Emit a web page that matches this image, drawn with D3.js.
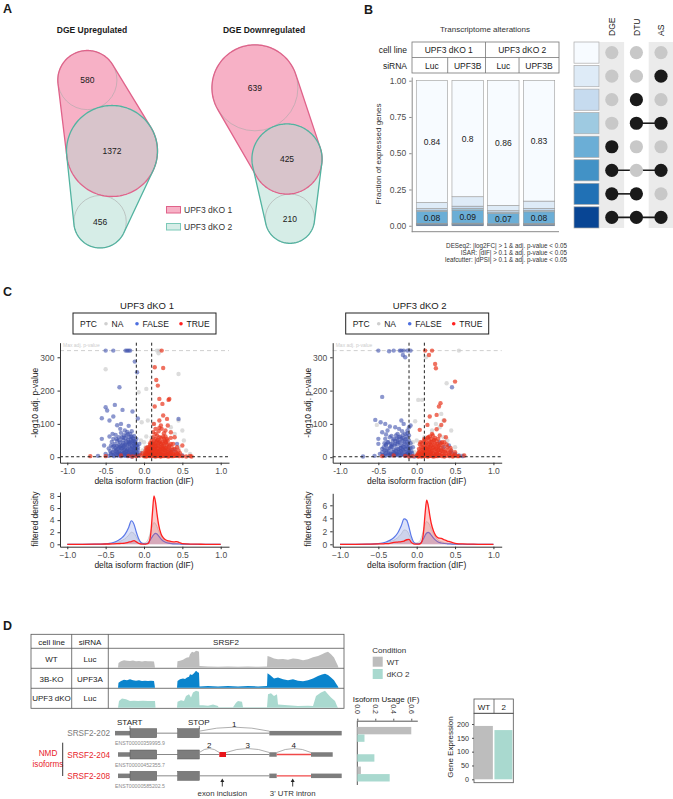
<!DOCTYPE html>
<html><head><meta charset="utf-8">
<script src="https://cdn.jsdelivr.net/npm/d3@7"></script>
<style>
body{margin:0;background:#fff;}
svg{display:block;font-family:"Liberation Sans",Arial,sans-serif;}
</style></head><body>
<svg id="fig" width="673" height="799"></svg>
<script>
// ================= DATA =================
// Panel A
const vennSets = ["UPF3 dKO 1", "UPF3 dKO 2"];
const vennUpCounts = [580, 1372, 456];      // only dKO1, both, only dKO2
const vennDownCounts = [639, 425, 210];
const vennTitles = ["DGE Upregulated", "DGE Downregulated"];

// Panel B
const bCellLines = ["UPF3 dKO 1", "UPF3 dKO 2"];
const bSirna = ["Luc", "UPF3B", "Luc", "UPF3B"];
const bCategories = ["DGE+DTU+AS","DGE+DTU","DGE+AS","DGE","DTU+AS","DTU","AS","none"]; // bottom -> top
const bFrac1 = [0.008,0.005,0.004,0.08,0.010,0.012,0.041,0.84];
const bFrac2 = [0.008,0.005,0.005,0.09,0.012,0.015,0.065,0.80];
const bFrac3 = [0.006,0.004,0.004,0.07,0.010,0.010,0.036,0.86];
const bFrac4 = [0.007,0.005,0.004,0.08,0.010,0.014,0.050,0.83];
const bLabelTop = ["0.84","0.8","0.86","0.83"];
const bLabelDGE = ["0.08","0.09","0.07","0.08"];
const bTicks = [0, 0.25, 0.5, 0.75, 1];
const upsetSets = ["DGE","DTU","AS"];
const upsetRows = [[],["AS"],["DTU"],["DTU","AS"],["DGE"],["DGE","AS"],["DGE","DTU"],["DGE","DTU","AS"]]; // top -> bottom
const bCaption = ["DESeq2: |log2FC| > 1 & adj. p-value < 0.05",
                  "ISAR: |dIF| > 0.1 & adj. p-value < 0.05",
                  "leafcutter: |dPSI| > 0.1 & adj. p-value < 0.05"];

// Panel C  volcano points [dIF, -log10 adj p]
const c1NA = [[-0.5,264],[0.17,320],[0.2,320],[0.19,312],[0.03,205],[0.45,250],[-0.07,195],[0.05,110],[-0.03,105],[0.35,90],[0.4,70],[0.5,80],[0.55,20],[0.6,10],[0.1,60],[0.15,40],[0.02,30],[-0.02,20],[0.0,45],[0.25,25],[0.3,35],[0.45,30],[-0.15,15],[0.08,15],[0.6,3],[0.12,100],[0.45,110],[0.03,62],[-0.04,50],[0.52,50]];
const c1False = [[-0.5,320],[-0.4,320],[-0.24,320],[-0.22,320],[-0.2,320],[-0.18,320],[-0.09,255],[-0.12,287],[-0.32,210],[-0.5,150],[-0.48,140],[-0.38,157],[-0.28,142],[-0.4,122],[-0.55,117],[-0.45,110],[-0.15,137],[-0.08,116],[0.45,115],[0.43,40],
 [-0.3,100],[-0.35,96],[-0.2,94],[-0.55,55],[-0.52,35],[-0.6,4],[-0.45,62],[-0.41,70],[-0.37,67],[-0.33,60],[-0.3,73],[-0.26,66],[-0.22,76],[-0.18,70],[-0.13,64],[-0.1,55],
 [-0.42,46],[-0.38,40],[-0.35,49],[-0.31,44],[-0.27,51],[-0.24,41],[-0.2,46],[-0.17,53],[-0.14,42],[-0.11,38],
 [-0.46,26],[-0.41,31],[-0.36,22],[-0.32,30],[-0.29,27],[-0.25,25],[-0.22,20],[-0.19,31],[-0.16,25],[-0.13,20],[-0.1,18],
 [-0.43,12],[-0.38,10],[-0.33,15],[-0.29,8],[-0.26,13],[-0.23,10],[-0.2,14],[-0.17,8],[-0.14,11],[-0.11,5],
 [-0.5,10],[-0.46,4],[-0.39,3],[-0.34,5],[-0.3,3],[-0.25,4],[-0.21,3],[-0.16,2],[-0.12,28],[-0.08,22],
 [-0.4,55],[-0.35,33],[-0.43,35],[-0.28,36],[-0.24,57],[-0.19,60],[-0.15,32],[-0.06,40],[-0.05,12],[-0.07,5],
 [0.35,20],[0.15,15],[0.2,10],[0.25,5],[0.3,8],[0.5,5],[0.4,22],[0.1,3]];
const c1FalseCore = [[-0.44,18],[-0.41,15],[-0.39,22],[-0.37,17],[-0.35,14],[-0.34,25],[-0.32,19],[-0.31,11],[-0.3,26],[-0.28,18],[-0.27,32],[-0.26,21],[-0.25,14],[-0.24,29],[-0.23,17],[-0.22,36],[-0.21,24],[-0.2,19],[-0.19,42],[-0.18,27],[-0.17,16],[-0.16,35],[-0.15,21],[-0.14,48],[-0.13,27],[-0.12,15],[-0.11,33],[-0.1,24],[-0.09,12],[-0.08,30],
 [-0.43,7],[-0.4,6],[-0.36,8],[-0.33,9],[-0.31,6],[-0.28,11],[-0.26,7],[-0.24,6],[-0.22,8],[-0.2,6],[-0.18,11],[-0.16,7],[-0.15,14],[-0.13,7],[-0.12,10],[-0.1,9],[-0.09,6],
 [-0.39,34],[-0.37,28],[-0.33,37],[-0.3,33],[-0.27,42],[-0.25,36],[-0.23,47],[-0.21,52],[-0.2,40],[-0.18,44],[-0.16,48],[-0.15,60],[-0.13,38],[-0.12,48],[-0.11,45],[-0.09,35],
 [-0.36,55],[-0.32,50],[-0.29,60],[-0.27,58],[-0.23,65],[-0.21,70],[-0.17,62],[-0.14,55],[-0.16,78],[-0.25,80],[-0.31,85]];
const c1True = [[0.23,320],[0.14,270],[0.16,232],[0.25,268],[0.18,215],[0.2,175],[0.24,160],[0.32,172],[0.33,175],[0.14,152],[0.25,125],[0.3,115],[0.2,110],[0.22,95],[0.13,100],[0.15,85],[0.28,80],[0.35,75],[0.4,60],[0.3,55],[0.45,20],[0.5,35],[0.28,45],[0.25,40],[0.2,60],[0.17,50],[0.12,40],[0.1,30],[0.07,18],[0.05,10],[0.02,5],[0.0,3],[-0.05,5],[-0.1,3],[-0.7,3],[-0.5,3],[-0.3,5],[-0.2,4],
 [0.08,42],[0.15,30],[0.18,35],[0.22,30],[0.25,25],[0.28,20],[0.32,30],[0.35,15],[0.38,10],[0.42,12],[0.45,6],[0.5,3],[0.55,2],[0.6,4],
 [0.13,20],[0.16,12],[0.19,18],[0.21,8],[0.24,14],[0.27,6],[0.3,10],[0.33,5],[0.12,8],[0.1,15],[0.08,5],[0.06,25],[0.04,15],[0.14,5],[0.18,3],[0.22,2],[0.26,3],[0.36,3],[0.4,4],
 [0.15,55],[0.2,45],[0.17,65],[0.26,55],[0.3,38],[0.35,40],[0.12,60],[0.1,50],[0.03,28],[-0.02,12],[0.19,78],[0.23,85],[0.31,95],[0.09,22],[0.11,35],[0.14,42],[0.21,22],[0.24,34],[0.27,28],[0.16,24],[0.06,8],[0.03,2],[-0.15,2],[0.62,2]];
const c1TrueCore = [[0.01,8],[0.02,14],[0.03,10],[0.04,22],[0.05,17],[0.06,12],[0.07,30],[0.08,14],[0.09,9],[0.1,24],[0.11,18],[0.12,12],[0.12,30],[0.13,15],[0.14,25],[0.15,20],[0.15,9],[0.16,34],[0.17,18],[0.17,8],[0.18,27],[0.19,12],[0.2,33],[0.2,16],[0.21,25],[0.22,40],[0.23,19],[0.23,9],[0.24,27],[0.25,15],[0.26,33],[0.27,22],[0.28,13],[0.29,28],[0.3,17],[0.31,24],[0.32,12],[0.33,20],[0.34,9],[0.36,15],[0.37,22],[0.39,7],[0.41,16],[0.44,10],[0.47,12],
 [0.02,20],[0.05,30],[0.08,36],[0.1,42],[0.13,48],[0.14,35],[0.16,45],[0.18,52],[0.19,42],[0.21,48],[0.22,58],[0.24,45],[0.25,62],[0.27,50],[0.29,44],[0.31,50],[0.33,35],[0.36,30],[0.38,40],[0.4,25],[0.43,30],
 [0.01,3],[0.03,5],[0.05,4],[0.07,3],[0.09,6],[0.11,4],[0.13,3],[0.15,2],[0.17,4],[0.19,5],[0.21,3],[0.23,4],[0.25,6],[0.28,4],[0.3,3],[0.32,2],[0.34,4],[0.38,3],[0.42,4],[0.46,3],
 [0.15,70],[0.2,88],[0.26,72],[0.12,75],[0.35,58],[0.28,62]];
const c2NA = [[0.55,320],[0.39,222],[0.02,172],[0.07,172],[0.12,300],[-0.52,97],[0.32,130],[0.35,110],[0.3,90],[0.25,100],[0.1,60],[0.05,40],[0.0,50],[-0.05,45],[0.15,35],[0.4,50],[0.45,20],[0.5,30],[0.2,80],[-0.1,30],[0.6,5],[0.35,60],[0.03,20],[-0.03,15],[0.28,25],[0.17,15],[0.45,80],[-0.02,108]];
const c2False = [[-0.5,320],[-0.36,318],[-0.3,320],[-0.22,320],[-0.2,320],[-0.17,320],[-0.12,320],[-0.08,320],[-0.18,307],[-0.15,300],[-0.45,181],[0.46,210],[-0.54,112],[-0.47,105],[-0.41,100],[-0.35,92],[-0.28,90],[-0.2,110],[-0.17,100],[-0.12,80],[-0.08,95],
 [-0.45,75],[-0.4,68],[-0.35,60],[-0.3,55],[-0.25,70],[-0.22,62],[-0.18,58],[-0.15,52],[-0.1,65],
 [-0.5,40],[-0.42,42],[-0.38,45],[-0.32,38],[-0.28,40],[-0.24,45],[-0.2,35],[-0.16,40],[-0.12,30],[-0.08,42],
 [-0.45,25],[-0.4,20],[-0.35,28],[-0.3,22],[-0.26,25],[-0.22,18],[-0.18,22],[-0.14,15],[-0.1,20],[-0.06,12],
 [-0.48,10],[-0.42,8],[-0.37,12],[-0.32,6],[-0.27,10],[-0.23,5],[-0.19,8],[-0.15,4],[-0.11,6],[-0.07,3],
 [-0.7,2],[-0.55,4],[0.3,45],[0.35,30],[0.42,35],[0.5,10],[0.55,5],[0.6,3],[0.2,5],[0.25,8],[-0.03,2],[-0.5,55],[-0.38,80],[-0.25,50],[-0.12,45],[-0.05,30],
 [-0.33,33],[-0.21,28],[-0.16,30],[-0.4,35],[-0.29,14],[-0.13,10],[0.15,12],[0.45,15]];
const c2FalseCore = [[-0.45,15],[-0.42,20],[-0.4,12],[-0.38,25],[-0.36,18],[-0.34,10],[-0.33,30],[-0.31,16],[-0.3,8],[-0.29,35],[-0.27,20],[-0.26,12],[-0.25,38],[-0.24,24],[-0.23,15],[-0.22,44],[-0.21,28],[-0.2,17],[-0.19,50],[-0.18,32],[-0.17,20],[-0.16,45],[-0.15,25],[-0.14,55],[-0.13,34],[-0.12,18],[-0.11,40],[-0.1,26],[-0.09,14],[-0.08,28],[-0.07,18],
 [-0.44,6],[-0.41,4],[-0.37,7],[-0.35,5],[-0.32,9],[-0.28,6],[-0.25,8],[-0.21,6],[-0.18,10],[-0.16,6],[-0.13,8],[-0.11,12],[-0.08,7],
 [-0.43,30],[-0.4,38],[-0.37,45],[-0.34,40],[-0.31,50],[-0.28,48],[-0.26,56],[-0.23,60],[-0.2,55],[-0.18,66],[-0.15,70],[-0.13,62],[-0.1,50],[-0.12,72],[-0.27,65],[-0.33,64],[-0.41,55],[-0.19,78],[-0.23,85],[-0.1,90]];
const c2True = [[0.11,320],[0.2,320],[0.16,307],[0.24,280],[0.25,267],[0.5,227],[0.29,152],[0.31,162],[0.26,127],[0.17,122],[0.04,82],[0.14,97],[0.26,84],[0.32,97],[0.36,110],[0.2,70],[0.3,65],[0.38,60],[0.15,60],[0.1,55],[0.05,45],
 [0.12,40],[0.18,45],[0.22,50],[0.27,40],[0.33,45],[0.4,30],[0.45,20],[0.5,15],[0.08,30],[0.13,25],[0.17,30],[0.21,28],[0.25,25],[0.29,22],[0.34,18],[0.38,12],
 [0.03,15],[0.06,10],[0.1,12],[0.14,8],[0.18,14],[0.22,10],[0.26,12],[0.3,6],[0.35,5],[0.42,8],[0.48,4],[0.55,3],[0.62,5],[0.0,5],[-0.05,3],[-0.15,4],[-0.3,5],[-0.45,3],
 [0.08,3],[0.16,4],[0.24,3],[0.12,18],[0.2,20],[0.28,32],[0.15,38],[0.24,58],[0.19,35],[0.09,20],[0.11,28],[0.16,22],[0.23,36],[0.07,6],[0.02,2],[-0.1,2]];
const c2TrueCore = [[0.01,6],[0.02,12],[0.03,25],[0.04,9],[0.05,18],[0.06,30],[0.07,14],[0.08,22],[0.09,11],[0.1,35],[0.11,16],[0.12,8],[0.12,28],[0.13,44],[0.14,19],[0.15,30],[0.15,10],[0.16,50],[0.17,24],[0.18,9],[0.18,38],[0.19,18],[0.2,45],[0.21,12],[0.22,30],[0.23,22],[0.24,40],[0.25,16],[0.26,28],[0.27,10],[0.28,20],[0.29,35],[0.3,14],[0.31,28],[0.32,20],[0.33,10],[0.35,24],[0.37,16],[0.4,20],[0.43,14],[0.46,8],[0.5,6],
 [0.04,38],[0.07,42],[0.09,48],[0.11,52],[0.14,58],[0.17,62],[0.19,55],[0.21,65],[0.23,52],[0.26,48],[0.28,55],[0.31,42],[0.34,36],[0.36,45],[0.39,38],[0.44,28],
 [0.02,3],[0.04,4],[0.06,2],[0.08,5],[0.1,3],[0.12,4],[0.14,2],[0.16,3],[0.18,5],[0.2,3],[0.22,2],[0.25,4],[0.27,3],[0.3,5],[0.33,3],[0.36,2],[0.39,4],[0.43,3],[0.47,2],[0.53,3]];

// Panel C density
const densX = [-1,-0.8,-0.6,-0.5,-0.45,-0.4,-0.35,-0.3,-0.25,-0.2,-0.165,-0.13,-0.1,-0.07,-0.04,-0.01,0.02,0.05,0.07,0.09,0.11,0.13,0.15,0.17,0.19,0.22,0.25,0.28,0.32,0.36,0.4,0.43,0.46,0.5,0.6,0.7,0.8,1];
const d1False = [0,0,0.02,0.08,0.15,0.3,0.55,0.95,1.6,2.8,3.9,3.3,2.0,0.9,0.3,0.1,0.08,0.2,0.5,0.9,1.3,1.65,1.8,1.7,1.4,0.9,0.55,0.35,0.2,0.12,0.08,0.07,0.05,0.03,0.01,0,0,0];
const d1True  = [0,0,0.03,0.05,0.05,0.07,0.1,0.15,0.2,0.35,0.45,0.6,0.4,0.15,0.05,0.02,0.03,0.1,0.5,2.0,5.2,8.0,7.0,5.0,3.3,1.8,1.1,0.75,0.55,0.45,0.4,0.45,0.3,0.1,0.03,0.02,0,0];
const d1NA    = [0,0,0.01,0.05,0.1,0.2,0.35,0.55,0.9,1.5,2.0,1.8,1.2,0.6,0.3,0.2,0.3,0.7,1.4,2.3,3.1,3.6,3.4,2.9,2.2,1.4,0.9,0.55,0.35,0.2,0.15,0.1,0.07,0.04,0.02,0.01,0,0];
const d2False = [0,0,0.02,0.1,0.2,0.35,0.6,1.0,1.7,2.9,3.9,3.7,2.6,1.2,0.35,0.1,0.08,0.2,0.5,0.9,1.4,1.75,1.85,1.7,1.4,0.95,0.6,0.35,0.2,0.12,0.08,0.06,0.04,0.03,0.01,0,0,0];
const d2True  = [0,0,0.03,0.05,0.06,0.1,0.15,0.3,0.35,0.4,0.5,0.7,0.75,0.3,0.08,0.03,0.03,0.1,0.5,2.0,4.8,6.8,6.0,4.5,3.2,2.0,1.3,1.0,0.9,0.7,0.5,0.4,0.3,0.15,0.05,0.03,0,0];
const d2NA    = [0,0,0.01,0.06,0.12,0.22,0.4,0.6,1.0,1.6,2.2,2.1,1.5,0.7,0.3,0.2,0.3,0.7,1.4,2.3,3.1,3.5,3.3,2.9,2.3,1.6,1.0,0.6,0.4,0.25,0.15,0.1,0.07,0.04,0.02,0.01,0,0];
const dIFcut = [-0.1, 0.1];
const pCut = 1.3;
const maxP = 320;

// Panel D
const dTableHead = ["cell line","siRNA","SRSF2"];
const dCellLines = ["WT","3B-KO","UPF3 dKO"];
const dSirna = ["Luc","UPF3A","Luc"];
const covWT = [[0,0],[0.5,28],[3,38],[6,45],[9,42],[12,40],[15,43],[18,38],[21,40],[24,37],[27,40],[30,38],[33,39],[36,37],[37,0],[59,0],[59.5,38],[62,42],[65,48],[67,55],[69,60],[71,62],[72,80],[74,95],[76,90],[78,100],[80,98],[81,95],[81.5,10],[90,8],[100,6],[110,8],[120,6],[130,7],[140,6],[149,8],[149.5,70],[152,65],[156,55],[160,50],[165,52],[170,48],[175,55],[180,52],[185,45],[190,50],[195,62],[200,70],[204,80],[207,88],[210,95],[213,80],[216,60],[218,35],[220,10],[220.5,0]];
const cov3B = [[0,0],[0.5,30],[3,40],[6,48],[9,45],[12,50],[15,45],[18,42],[21,45],[24,40],[27,42],[30,40],[33,42],[36,40],[37,0],[59,0],[59.5,40],[62,50],[65,55],[67,52],[69,60],[71,65],[72,80],[74,75],[76,85],[78,100],[80,90],[81,88],[81.5,8],[90,10],[100,8],[110,10],[120,8],[130,10],[140,8],[149,10],[149.5,85],[152,75],[156,55],[160,60],[165,50],[170,45],[175,50],[180,42],[185,38],[190,45],[195,55],[200,70],[204,78],[207,82],[210,75],[213,60],[216,45],[218,25],[220,8],[220.5,0]];
const covDKO = [[0,0],[1,40],[4,55],[8,50],[12,40],[16,42],[20,40],[25,42],[30,40],[37,40],[37.5,0],[59,0],[59.5,35],[63,45],[66,40],[68,70],[71,80],[73,60],[75,90],[78,100],[81,95],[81.5,15],[85,15],[90,12],[95,20],[100,10],[100.5,3],[105,3],[110,3],[115,3],[118,30],[120,40],[124,35],[125,3],[140,3],[149,3],[150,80],[153,85],[156,70],[159,80],[160,20],[170,15],[180,10],[190,12],[195,10],[198,70],[203,90],[207,100],[210,80],[213,60],[217,40],[219,10],[220,0]];
const isoNames = ["SRSF2-202","SRSF2-204","SRSF2-208"];
const isoIds = ["ENST00000359995.9","ENST00000452355.7","ENST00000585202.5"];
const isoNMD = [false, true, true];
const isoFeatures = [
  [[0,15,"utr"],[15,41.7,"cds"],[41.7,62.7,"line"],[62.7,84.3,"cds"],[84.3,154.3,"line"],[154.3,226.7,"utr"]],
  [[3,15,"utr"],[15,41.7,"cds"],[41.7,62.7,"line"],[62.7,84.3,"cds"],[84.3,104.3,"line"],[104.3,111,"nmd"],[111,154.3,"line"],[154.3,161.7,"utr"],[161.7,196,"redline"],[196,217.7,"utr"]],
  [[3,15,"utr"],[15,41.7,"cds"],[41.7,62.7,"line"],[62.7,84.3,"cds"],[84.3,154.3,"line"],[154.3,161.7,"utr"],[161.7,196,"redline"],[196,226.7,"utr"]]
];
const isoArcs = [[[84.3,154.3,"1"]],[[84.3,104.3,"2"],[111,154.3,"3"],[161.7,196,"4"]],[]];
const isoArrows = [[107.3,"exon inclusion"],[177.7,"3' UTR intron"]];
const conditions = ["WT","dKO 2"];
const ifWT = [0.6, 0, 0.04];
const ifDKO = [0.08, 0.19, 0.36];
const ifTicks = [0, 0.2, 0.4, 0.6];
const geneExprCond = ["WT","2"];
const geneExpr = [193, 178];
const geneTicks = [0,50,100,150,200];

// ================= DRAW =================
const svg = d3.select("#fig");
const FONT = "Liberation Sans, Arial, sans-serif";
function txt(g, x, y, s, o = {}) {
  const t = g.append("text").attr("x", x).attr("y", y).text(s)
    .attr("font-size", o.size || 8).attr("fill", o.fill || "#1a1a1a")
    .attr("text-anchor", o.anchor || "start");
  if (o.weight) t.attr("font-weight", o.weight);
  if (o.rotate != null) t.attr("transform", `rotate(${o.rotate},${x},${y})`);
  return t;
}
function styleAxis(sel, size = 8.5, col = "#4d4d4d", lc = "#333") {
  sel.attr("font-family", FONT);
  sel.selectAll("text").attr("fill", col).attr("font-size", size);
  sel.selectAll(".tick line").attr("stroke", lc);
  sel.select(".domain").attr("stroke", lc);
}

txt(svg, 3, 13, "A", {size: 12.5, weight: "bold"});
txt(svg, 364, 14, "B", {size: 12.5, weight: "bold"});
txt(svg, 3, 296, "C", {size: 12.5, weight: "bold"});
txt(svg, 3, 630, "D", {size: 12.5, weight: "bold"});

// ---------- Panel A ----------
const pink = "#f7b1c6", pinkS = "#e0628a", teal = "#d6ede7", tealS = "#52b3a0", overlapC = "#d8c4cb";
function hullPath(c1, c2) {
  const pts = [];
  [c1, c2].forEach(c => { for (let a = 0; a < 360; a += 2) { const r = a * Math.PI / 180; pts.push([c.x + c.r * Math.cos(r), c.y + c.r * Math.sin(r)]); } });
  const h = d3.polygonHull(pts);
  return "M" + h.map(p => p.join(",")).join("L") + "Z";
}
function venn(counts, mid, angTop, angBot, title, tx) {
  const g = svg.append("g");
  const rs = d3.scaleSqrt().domain([0, d3.max(counts)]).range([0, counts[0] > counts[1] ? 43 : 45.5]);
  const cm = {x: mid[0], y: mid[1], r: rs(counts[1])};
  const rt = rs(counts[0]), rb = rs(counts[2]);
  const ct = {x: mid[0] + (cm.r + rt) * Math.cos(angTop), y: mid[1] + (cm.r + rt) * Math.sin(angTop), r: rt};
  const cb = {x: mid[0] + (cm.r + rb) * Math.cos(angBot), y: mid[1] + (cm.r + rb) * Math.sin(angBot), r: rb};
  g.append("path").attr("d", hullPath(ct, cm)).attr("fill", pink);
  g.append("path").attr("d", hullPath(cm, cb)).attr("fill", teal);
  g.append("circle").attr("cx", cm.x).attr("cy", cm.y).attr("r", cm.r).attr("fill", overlapC);
  [ct, cb].forEach(c => g.append("circle").attr("cx", c.x).attr("cy", c.y).attr("r", c.r).attr("fill", "none").attr("stroke", "#a9a9a9").attr("stroke-width", 0.6));
  g.append("path").attr("d", hullPath(ct, cm)).attr("fill", "none").attr("stroke", pinkS).attr("stroke-width", 1.3);
  g.append("path").attr("d", hullPath(cm, cb)).attr("fill", "none").attr("stroke", tealS).attr("stroke-width", 1.3);
  [ct, cm, cb].forEach((c, i) => txt(g, c.x, c.y + 3, String(counts[i]), {size: 8.5, anchor: "middle"}));
  txt(g, tx, 33, title, {size: 8.5, weight: "bold", anchor: "middle"});
}
venn(vennUpCounts, [112, 151], Math.atan2(-72, -25), Math.atan2(71, -12), vennTitles[0], 92);
venn(vennDownCounts, [287, 159], Math.atan2(-71, -32), Math.atan2(61, 3), vennTitles[1], 264);
[[pink, pinkS], [teal, "#7cc9b8"]].forEach((c, i) => {
  svg.append("rect").attr("x", 166.5).attr("y", 206.5 + i * 17).attr("width", 14).attr("height", 6.5).attr("fill", c[0]).attr("stroke", c[1]).attr("stroke-width", 1);
  txt(svg, 184, 213 + i * 17, vennSets[i], {size: 8.5, fill: "#333"});
});

// ---------- Panel B ----------
(function () {
  const g = svg.append("g");
  const fr = [bFrac1, bFrac2, bFrac3, bFrac4];
  const blues = d3.schemeBlues[8];
  const x = d3.scaleBand().domain(d3.range(4)).range([412, 559]).paddingInner(0.12).paddingOuter(0.12);
  const y = d3.scaleLinear().domain([-0.041, 1.0255]).range([231.7, 77]);
  txt(g, 485, 32, "Transcriptome alterations", {size: 8, anchor: "middle", fill: "#333"});
  const step = x.step(), x0 = 412;
  g.append("rect").attr("x", 412).attr("y", 42).attr("width", 147).attr("height", 31).attr("fill", "#fff").attr("stroke", "#777").attr("stroke-width", 0.8);
  g.append("line").attr("x1", 412).attr("x2", 559).attr("y1", 57.5).attr("y2", 57.5).attr("stroke", "#777").attr("stroke-width", 0.8);
  g.append("line").attr("x1", 485.5).attr("x2", 485.5).attr("y1", 42).attr("y2", 73).attr("stroke", "#777").attr("stroke-width", 0.8);
  [1, 3].forEach(i => g.append("line").attr("x1", x0 + i * step).attr("x2", x0 + i * step).attr("y1", 57.5).attr("y2", 73).attr("stroke", "#777").attr("stroke-width", 0.8));
  bCellLines.forEach((c, i) => txt(g, 412 + 36.75 + i * 73.5, 53, c, {size: 8.5, anchor: "middle"}));
  bSirna.forEach((s, i) => txt(g, x(i) + x.bandwidth() / 2, 68.5, s, {size: 8.5, anchor: "middle"}));
  txt(g, 407, 53, "cell line", {size: 8.5, anchor: "end"});
  txt(g, 407, 68.5, "siRNA", {size: 8.5, anchor: "end"});
  const ya = g.append("g").attr("transform", "translate(411.7,0)").call(d3.axisLeft(y).tickValues(bTicks).tickFormat(d3.format(".2f")).tickSize(2.5).tickSizeOuter(0));
  styleAxis(ya, 8.5, "#4d4d4d", "#8a8a8a");
  g.append("line").attr("x1", 411.7).attr("x2", 559).attr("y1", 231.7).attr("y2", 231.7).attr("stroke", "#8a8a8a").attr("stroke-width", 1);
  txt(g, 381, 154, "Fraction of expressed genes", {size: 8, anchor: "middle", rotate: -90, fill: "#333"});
  fr.forEach((f, i) => {
    let c = 0;
    f.forEach((v, k) => {
      g.append("rect").attr("x", x(i)).attr("width", x.bandwidth()).attr("y", y(c + v)).attr("height", y(c) - y(c + v))
        .attr("fill", blues[7 - k]).attr("stroke", "#9a9a9a").attr("stroke-width", 0.6);
      c += v;
    });
    const cumDGE = f[0] + f[1] + f[2];
    txt(g, x(i) + x.bandwidth() / 2, y(cumDGE + f[3] / 2) + 3.2, bLabelDGE[i], {size: 8.5, anchor: "middle"});
    const cumTop = 1 - f[7];
    txt(g, x(i) + x.bandwidth() / 2, y(cumTop + f[7] / 2) + 3, bLabelTop[i], {size: 8.5, anchor: "middle"});
  });
  bCaption.forEach((s, i) => txt(g, 567, 248 + i * 7.2, s, {size: 6.3, anchor: "end", fill: "#333"}));
  const ry = d3.scaleBand().domain(d3.range(8)).range([42, 228]).paddingInner(0.1);
  const sx = d3.scaleBand().domain(upsetSets).range([599.5, 673.3]);
  upsetSets.forEach((s, j) => {
    if (j !== 1) g.append("rect").attr("x", sx(s)).attr("y", 42).attr("width", sx.bandwidth()).attr("height", 186).attr("fill", "#ebebeb");
    const cx = sx(s) + sx.bandwidth() / 2;
    txt(g, cx + 3.2, 36, s, {size: 8.5, rotate: -90});
  });
  upsetRows.forEach((row, r) => {
    const cy = ry(r) + ry.bandwidth() / 2;
    g.append("rect").attr("x", 574).attr("y", ry(r)).attr("width", 25).attr("height", ry.bandwidth()).attr("fill", blues[r]).attr("stroke", "#aaa").attr("stroke-width", 0.7);
    const xs = row.map(s => sx(s) + sx.bandwidth() / 2);
    if (xs.length > 1) g.append("line").attr("x1", d3.min(xs)).attr("x2", d3.max(xs)).attr("y1", cy).attr("y2", cy).attr("stroke", "#1a1a1a").attr("stroke-width", 1.6);
    upsetSets.forEach(s => {
      const on = row.includes(s);
      g.append("circle").attr("cx", sx(s) + sx.bandwidth() / 2).attr("cy", cy).attr("r", 6.6).attr("fill", on ? "#1a1a1a" : "#c8c8c8");
    });
  });
})();

// ---------- Panel C ----------
function volcano(ox, title, na, fa, tr, dF, dT, dN, dTop, dTicks, dSlope) {
  const g = svg.append("g");
  const x = d3.scaleLinear().domain([-1.095, 1.108]).range([ox, ox + 169]);
  const y = d3.scaleLinear().domain([-16.6, 343.8]).range([462.7, 342.7]);
  txt(g, ox + 87, 309, title, {size: 9.5, anchor: "middle"});
  g.append("rect").attr("x", ox + 13).attr("y", 313).attr("width", 143).attr("height", 21).attr("fill", "#fff").attr("stroke", "#222").attr("stroke-width", 1);
  txt(g, ox + 20, 327, "PTC", {size: 8.5});
  [["NA", "#cfcfcf", 46], ["FALSE", "#4d6fe0", 77], ["TRUE", "#ff2020", 121]].forEach(l => {
    g.append("circle").attr("cx", ox + l[2]).attr("cy", 323.8).attr("r", 1.8).attr("fill", l[1]);
    txt(g, ox + l[2] + 5.5, 327, l[0], {size: 8.5});
  });
  g.append("line").attr("x1", ox).attr("x2", ox + 169).attr("y1", y(maxP)).attr("y2", y(maxP)).attr("stroke", "#cfcfcf").attr("stroke-width", 1).attr("stroke-dasharray", "4,3");
  txt(g, ox + 3, 346.5, "Max adj. p-value", {size: 5, fill: "#cccccc"});
  [[na, "#cdcdcd", 0.7], [fa, "#3f52ad", 0.6], [tr, "#e8341c", 0.7]].forEach(s => {
    g.append("g").selectAll("circle").data(s[0]).join("circle")
      .attr("cx", d => x(d[0])).attr("cy", d => y(d[1])).attr("r", 2.2).attr("fill", s[1]).attr("fill-opacity", s[2]);
  });
  dIFcut.forEach(c => g.append("line").attr("x1", x(c)).attr("x2", x(c)).attr("y1", 342.7).attr("y2", 462.7).attr("stroke", "#222").attr("stroke-width", 1).attr("stroke-dasharray", "3,2.5"));
  g.append("line").attr("x1", ox).attr("x2", ox + 169).attr("y1", y(pCut)).attr("y2", y(pCut)).attr("stroke", "#222").attr("stroke-width", 1).attr("stroke-dasharray", "3,2.5");
  const xa = g.append("g").attr("transform", "translate(0,462.7)").call(d3.axisBottom(x).tickValues([-1, -0.5, 0, 0.5, 1]).tickFormat(d3.format(".1f")).tickSize(2.5).tickSizeOuter(0));
  const ya = g.append("g").attr("transform", `translate(${ox},0)`).call(d3.axisLeft(y).tickValues([0, 100, 200, 300]).tickSize(2.5).tickSizeOuter(0));
  styleAxis(xa); styleAxis(ya);
  xa.selectAll("text").text(function () { return d3.select(this).text().replace("−", "-"); });
  txt(g, ox + 84, 484, "delta isoform fraction (dIF)", {size: 8.5, anchor: "middle", fill: "#222"});
  txt(g, ox - 22, 402.7, "-log10 adj. p-value", {size: 8.5, anchor: "middle", rotate: -90, fill: "#222"});
  const yd = d3.scaleLinear().domain([0, 1]).range([544.3, 544.3 - dSlope]);
  const bottom = 546.7;
  const ydAxis = d3.scaleLinear().domain([yd.invert(bottom), yd.invert(dTop)]).range([bottom, dTop]);
  const area = d3.area().x((d, i) => x(densX[i])).y0(yd(0)).y1(d => yd(d)).curve(d3.curveMonotoneX);
  const line = d3.line().x((d, i) => x(densX[i])).y(d => yd(d)).curve(d3.curveMonotoneX);
  [[dN, "#cccccc", 0.35, "#d2d2d2", 1], [dF, "#7088e8", 0.25, "#5a78e8", 1.2], [dT, "#f04040", 0.28, "#ff2020", 1.3]].forEach(s => {
    g.append("path").attr("d", area(s[0])).attr("fill", s[1]).attr("fill-opacity", s[2]);
    g.append("path").attr("d", line(s[0])).attr("fill", "none").attr("stroke", s[3]).attr("stroke-width", s[4]);
  });
  const xb = g.append("g").attr("transform", `translate(0,${bottom})`).call(d3.axisBottom(x).tickValues([-1, -0.5, 0, 0.5, 1]).tickFormat(d3.format(".1f")).tickSize(2.5).tickSizeOuter(0));
  const yb = g.append("g").attr("transform", `translate(${ox},0)`).call(d3.axisLeft(ydAxis).tickValues(dTicks).tickSize(2.5).tickSizeOuter(0));
  styleAxis(xb); styleAxis(yb);
  txt(g, ox + 84, 567.5, "delta isoform fraction (dIF)", {size: 8.5, anchor: "middle", fill: "#222"});
  txt(g, ox - 22, 519, "filtered density", {size: 8.5, anchor: "middle", rotate: -90, fill: "#222"});
}
volcano(60, "UPF3 dKO 1", c1NA, c1False.concat(c1FalseCore), c1True.concat(c1TrueCore), d1False, d1True, d1NA, 492, [0, 2, 4, 6, 8], 6.04);
volcano(332.7, "UPF3 dKO 2", c2NA, c2False.concat(c2FalseCore), c2True.concat(c2TrueCore), d2False, d2True, d2NA, 493.3, [0, 2, 4, 6], 6.5);

// ---------- Panel D ----------
(function () {
  const g = svg.append("g");
  const ls = "#555";
  g.append("rect").attr("x", 31).attr("y", 634.3).attr("width", 313).attr("height", 74).attr("fill", "none").attr("stroke", ls).attr("stroke-width", 0.8);
  [648.3, 668.3, 688.3].forEach(yy => g.append("line").attr("x1", 31).attr("x2", 344).attr("y1", yy).attr("y2", yy).attr("stroke", ls).attr("stroke-width", 0.8));
  [71.7, 108.3].forEach(xx => g.append("line").attr("x1", xx).attr("x2", xx).attr("y1", 634.3).attr("y2", 708.3).attr("stroke", ls).attr("stroke-width", 0.8));
  txt(g, 51.5, 644.5, dTableHead[0], {size: 8, anchor: "middle"});
  txt(g, 90, 644.5, dTableHead[1], {size: 8, anchor: "middle"});
  txt(g, 226, 644.5, dTableHead[2], {size: 8, anchor: "middle"});
  const rowsY = [661.5, 681.5, 701];
  dCellLines.forEach((c, i) => txt(g, 51.5, rowsY[i], c, {size: 8, anchor: "middle"}));
  dSirna.forEach((c, i) => txt(g, 90, rowsY[i], c, {size: 8, anchor: "middle"}));
  const px = d3.scaleLinear().domain([0, 220]).range([118, 338]);
  const covs = [[covWT, "#bdbdbd", 667.8], [cov3B, "#0a84cc", 687.8], [covDKO, "#a9d9cf", 707.8]];
  covs.forEach(c => {
    const a = d3.area().x(d => px(d[0])).y0(c[2]).y1(d => c[2] - d[1] * 0.17);
    g.append("path").attr("d", a(c[0])).attr("fill", c[1]);
  });
  const mx = d3.scaleLinear().domain([0, 227]).range([115, 342]);
  const ry = d3.scaleBand().domain(isoNames).range([722.5, 786.5]);
  txt(g, 117, 725, "START", {size: 8});
  txt(g, 188, 725, "STOP", {size: 8});
  g.append("line").attr("x1", mx(15)).attr("x2", mx(15)).attr("y1", 726).attr("y2", 729).attr("stroke", "#555").attr("stroke-width", 0.7);
  g.append("line").attr("x1", mx(84.3)).attr("x2", mx(84.3)).attr("y1", 726).attr("y2", 729).attr("stroke", "#555").attr("stroke-width", 0.7);
  isoNames.forEach((n, i) => {
    const cy = ry(n) + ry.bandwidth() / 2;
    isoFeatures[i].forEach(f => {
      const x1 = mx(f[0]), x2 = mx(f[1]);
      if (f[2] === "line") g.append("line").attr("x1", x1).attr("x2", x2).attr("y1", cy).attr("y2", cy).attr("stroke", "#888").attr("stroke-width", 1);
      else if (f[2] === "redline") g.append("line").attr("x1", x1).attr("x2", x2).attr("y1", cy).attr("y2", cy).attr("stroke", "#f04848").attr("stroke-width", 1.4);
      else {
        const h = f[2] === "cds" ? 9 : (f[2] === "nmd" ? 5 : 4.5);
        g.append("rect").attr("x", x1).attr("y", cy - h / 2).attr("width", x2 - x1).attr("height", h)
          .attr("fill", f[2] === "nmd" ? "#e8151b" : "#7d7d7d").attr("stroke", f[2] === "cds" ? "#555" : "none").attr("stroke-width", 0.5);
      }
    });
    isoArcs[i].forEach(a => {
      const x1 = mx(a[0]), x2 = mx(a[1]), yb = cy - 2;
      g.append("path").attr("d", `M${x1},${yb}Q${(x1 + x2) / 2},${yb - 8},${x2},${yb}`).attr("fill", "none").attr("stroke", "#9a9a9a").attr("stroke-width", 0.8);
      txt(g, (x1 + x2) / 2, yb - 4.5, a[2], {size: 8, anchor: "middle"});
    });
    txt(g, 110, cy + 3, n, {size: 8.2, anchor: "end", fill: isoNMD[i] ? "#e8242b" : "#7a7a7a"});
    txt(g, 115, cy + 12, isoIds[i], {size: 5.2, fill: "#8a8a8a"});
  });
  txt(g, 48, 756, "NMD", {size: 8.2, anchor: "middle", fill: "#e8242b"});
  txt(g, 48, 766.5, "isoforms", {size: 8.2, anchor: "middle", fill: "#e8242b"});
  g.append("line").attr("x1", 62.7).attr("x2", 62.7).attr("y1", 742.7).attr("y2", 776).attr("stroke", "#222").attr("stroke-width", 0.9);
  isoArrows.forEach(a => {
    const ax = mx(a[0]);
    g.append("line").attr("x1", ax).attr("x2", ax).attr("y1", 786.5).attr("y2", 781).attr("stroke", "#222").attr("stroke-width", 0.9);
    g.append("path").attr("d", `M${ax - 2},${782}L${ax},${778.5}L${ax + 2},${782}Z`).attr("fill", "#222");
    txt(g, ax, 796, a[1], {size: 7.8, anchor: "middle", fill: "#333"});
  });
  txt(g, 372.3, 652.5, "Condition", {size: 8, fill: "#333"});
  const condCol = ["#bdbdbd", "#a9d9cf"];
  conditions.forEach((c, i) => {
    g.append("rect").attr("x", 372.7).attr("y", 656.7 + i * 12.3).attr("width", 10).attr("height", 10).attr("fill", condCol[i]);
    txt(g, 386.7, 664.5 + i * 12.3, c, {size: 8, fill: "#333"});
  });
  txt(g, 352.7, 701.5, "Isoform Usage (IF)", {size: 8, fill: "#222"});
  const ix = d3.scaleLinear().domain([0, 0.667]).range([357.3, 417.3]);
  const ia = g.append("g").attr("transform", "translate(0,720.7)").call(d3.axisTop(ix).tickValues(ifTicks).tickFormat(d3.format(".1f")).tickSize(2).tickSizeOuter(0));
  styleAxis(ia, 7, "#333", "#555");
  ia.selectAll(".tick text").attr("text-anchor", "start").attr("dy", null).attr("y", 0).attr("transform", "translate(-2.5,-16.5) rotate(90)");
  g.append("line").attr("x1", 357.3).attr("x2", 357.3).attr("y1", 720.7).attr("y2", 785).attr("stroke", "#555").attr("stroke-width", 1);
  const ibar = d3.scaleBand().domain(isoNames).range([724.5, 784]);
  isoNames.forEach((n, i) => {
    const c = ibar(n) + ibar.bandwidth() / 2;
    if (ifWT[i] > 0) g.append("rect").attr("x", ix(0)).attr("y", c - 7.5).attr("width", ix(ifWT[i]) - ix(0)).attr("height", 7.4).attr("fill", condCol[0]);
    if (ifDKO[i] > 0) g.append("rect").attr("x", ix(0)).attr("y", c).attr("width", ix(ifDKO[i]) - ix(0)).attr("height", 7.4).attr("fill", condCol[1]);
  });
  const gx = d3.scaleBand().domain(geneExprCond).range([474, 513.3]).paddingInner(0.08).paddingOuter(0.05);
  const gy = d3.scaleLinear().domain([0, 200]).range([779.3, 724]);
  g.append("rect").attr("x", 474).attr("y", 699).attr("width", 39.3).attr("height", 14.3).attr("fill", "#fff").attr("stroke", "#555").attr("stroke-width", 0.8);
  g.append("line").attr("x1", 494).attr("x2", 494).attr("y1", 699).attr("y2", 713.3).attr("stroke", "#555").attr("stroke-width", 0.8);
  txt(g, 484, 709.5, geneExprCond[0], {size: 8, anchor: "middle"});
  txt(g, 503.7, 709.5, geneExprCond[1], {size: 8, anchor: "middle"});
  geneExpr.forEach((v, i) => g.append("rect").attr("x", gx(geneExprCond[i])).attr("y", gy(v)).attr("width", gx.bandwidth()).attr("height", gy(0) - gy(v)).attr("fill", condCol[i]));
  g.append("rect").attr("x", 474).attr("y", 713.3).attr("width", 39.3).attr("height", 69.4).attr("fill", "none").attr("stroke", "#555").attr("stroke-width", 0.8);
  const ga = g.append("g").attr("transform", "translate(474,0)").call(d3.axisLeft(gy).tickValues(geneTicks).tickSize(2).tickSizeOuter(0));
  styleAxis(ga, 7.2, "#333", "#555");
  ga.select(".domain").remove();
  txt(g, 453, 747, "Gene Expression", {size: 8, anchor: "middle", rotate: -90, fill: "#222"});
})();
</script></body></html>
